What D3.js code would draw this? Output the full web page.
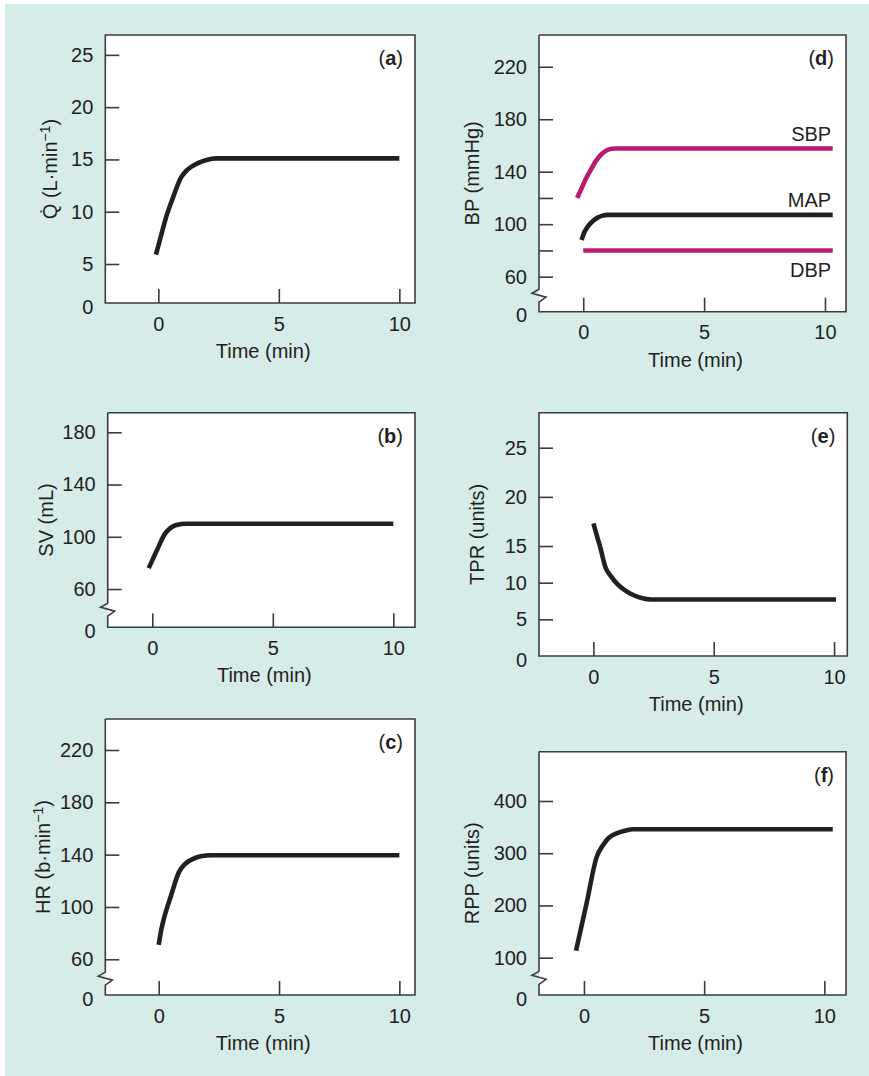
<!DOCTYPE html>
<html><head><meta charset="utf-8">
<script src="https://cdn.jsdelivr.net/npm/d3@7"></script>
<style>
html,body{margin:0;padding:0;background:#fff;}
svg{display:block;}
text{font-family:"Liberation Sans",Arial,Helvetica,sans-serif;fill:#231f20;}
</style></head>
<body>
<script>
// ---------- DATA ----------
const timeTicks = [0, 5, 10];

// (a) Cardiac output
const qTime = [-0.1, 0.1, 0.3, 0.6, 0.95, 1.2, 1.6, 2.0, 2.4, 10];
const qValue = [5.9, 7.6, 9.3, 11.3, 13.3, 14.0, 14.6, 14.95, 15.1, 15.1];
const qTicks = [5, 10, 15, 20, 25];

// (b) Stroke volume
const svTime = [-0.15, 0.1, 0.3, 0.45, 0.6, 0.8, 1.0, 1.4, 10];
const svValue = [76, 86, 94, 100, 104, 107.3, 109, 110, 110];
const svTicks = [60, 100, 140, 180];

// (c) Heart rate
const hrTime = [0, 0.1, 0.2, 0.5, 0.85, 1.1, 1.45, 1.8, 2.15, 10];
const hrValue = [71, 82, 90, 108, 127, 133, 137, 139, 139.5, 139.5];
const hrTicks = [60, 100, 140, 180, 220];

// (d) Blood pressure
const sbpTime = [-0.25, -0.1, 0.1, 0.3, 0.5, 0.7, 0.9, 1.1, 1.3, 10.32];
const sbpValue = [120, 126, 134.2, 141, 147.5, 152.3, 155.5, 157.2, 157.7, 157.7];
const mapTime = [-0.07, 0.05, 0.2, 0.4, 0.6, 0.8, 1.0, 10.32];
const mapValue = [88, 94, 98.5, 102.5, 105, 106.5, 107.1, 107.1];
const dbpTime = [0, 10.32];
const dbpValue = [80, 80];
const bpTicks = [60, 80, 100, 120, 140, 180, 220];
const bpTickLabels = ["60", "", "100", "", "140", "180", "220"];
const bpSeriesNames = ["SBP", "MAP", "DBP"];

// (e) Total peripheral resistance
const tprTime = [0, 0.15, 0.28, 0.5, 0.75, 1.0, 1.3, 1.7, 2.0, 2.4, 10.08];
const tprValue = [17.3, 16.0, 14.9, 12.1, 10.8, 9.8, 9.0, 8.25, 7.9, 7.7, 7.7];
const tprTicks = [5, 10, 15, 20, 25];

// (f) Rate pressure product
const rppTime = [-0.33, 0.11, 0.53, 0.8, 1.05, 1.36, 1.7, 2.05, 10.35];
const rppValue = [113, 204, 293, 316, 330, 338, 343, 346, 346];
const rppTicks = [100, 200, 300, 400];

// ---------- LAYOUT ----------
const W = 869, H = 1076;
const FS = 20;
const INK = "#231f20", FRAME = "#3c3c3c", MAGENTA = "#bc1a71";

const svg = d3.select("body").append("svg").attr("width", W).attr("height", H);
svg.append("rect").attr("x", 5).attr("y", 4).attr("width", W - 5).attr("height", H - 4).attr("fill", "#d6ece9");

const panels = [
  {letter: "a", box: [105.3, 35, 415, 303], xDom: [-2.2, 10.65], yDom: [1.27, 26.9], ticks: qTicks, brk: false,
   ylabel: "Q", labOff: 55,
   series: [{t: qTime, v: qValue, c: INK}]},
  {letter: "b", box: [107.7, 412.7, 415, 627.3], xDom: [-1.85, 10.9], yDom: [30.7, 195], ticks: svTicks, brk: true,
   ylabel: "SV (mL)", labOff: 62,
   series: [{t: svTime, v: svValue, c: INK}]},
  {letter: "c", box: [105.3, 719, 415, 995], xDom: [-2.22, 10.65], yDom: [32.7, 243.7], ticks: hrTicks, brk: true,
   ylabel: "HR", labOff: 62,
   series: [{t: hrTime, v: hrValue, c: INK}]},
  {letter: "d", box: [539, 35, 846, 311.7], xDom: [-1.83, 10.87], yDom: [33.3, 244.2], ticks: bpTicks, tickLabels: bpTickLabels, brk: true,
   ylabel: "BP (mmHg)", labOff: 67,
   series: [{t: sbpTime, v: sbpValue, c: MAGENTA, name: bpSeriesNames[0], ldy: -14.5},
            {t: mapTime, v: mapValue, c: INK, name: bpSeriesNames[1], ldy: -15},
            {t: dbpTime, v: dbpValue, c: MAGENTA, name: bpSeriesNames[2], ldy: 19.7}]},
  {letter: "e", box: [539, 412.7, 847.3, 656], xDom: [-2.26, 10.55], yDom: [0, 15, 28.56], yFrac: [0, 0.452, 1], ticks: tprTicks, brk: false,
   ylabel: "TPR (units)", labOff: 62,
   series: [{t: tprTime, v: tprValue, c: INK}]},
  {letter: "f", box: [539, 751.7, 846, 995], xDom: [-1.87, 10.9], yDom: [28.5, 494.4], ticks: rppTicks, brk: true,
   ylabel: "RPP (units)", labOff: 67,
   series: [{t: rppTime, v: rppValue, c: INK}]}
];

panels.forEach(p => {
  const [L, T, R, B] = p.box;
  const g = svg.append("g");
  const x = d3.scaleLinear().domain(p.xDom).range([L, R]);
  const yRange = p.yFrac ? p.yFrac.map(f => B - f * (B - T)) : [B, T];
  const y = d3.scaleLinear().domain(p.yDom).range(yRange);

  g.append("rect").attr("x", L).attr("y", T).attr("width", R - L).attr("height", B - T).attr("fill", "#fff");

  const fp = d3.path();
  if (p.brk) {
    const yb = (y(p.ticks[0]) + B) / 2 + 1;
    fp.moveTo(L, T); fp.lineTo(R, T); fp.lineTo(R, B); fp.lineTo(L, B);
    fp.lineTo(L, yb + 7); fp.lineTo(L + 7, yb + 2); fp.lineTo(L - 7, yb - 2); fp.lineTo(L, yb - 6); fp.lineTo(L, T);
  } else {
    fp.moveTo(L, T); fp.lineTo(R, T); fp.lineTo(R, B); fp.lineTo(L, B); fp.closePath();
  }
  g.append("path").attr("d", fp.toString()).attr("fill", "none").attr("stroke", FRAME).attr("stroke-width", 1.6);

  const ya = d3.axisLeft(y).tickValues(p.ticks).tickSize(-14).tickPadding(12)
    .tickFormat((d, i) => p.tickLabels ? p.tickLabels[i] : String(d));
  const yg = g.append("g").attr("transform", `translate(${L},0)`).call(ya);
  yg.select(".domain").remove();
  yg.selectAll(".tick line").attr("stroke", FRAME).attr("stroke-width", 1.6);
  yg.selectAll(".tick text").style("font-size", FS + "px").attr("fill", INK).style("font-family", '"Liberation Sans",Arial,sans-serif');

  g.append("text").attr("x", L - 12).attr("y", B + 3.5).attr("dy", "0.35em").attr("text-anchor", "end")
    .style("font-size", FS + "px").text("0");

  const xa = d3.axisBottom(x).tickValues(timeTicks).tickSize(-14).tickPadding(13.3).tickFormat(d => String(d));
  const xg = g.append("g").attr("transform", `translate(0,${B})`).call(xa);
  xg.select(".domain").remove();
  xg.selectAll(".tick line").attr("stroke", FRAME).attr("stroke-width", 1.6);
  xg.selectAll(".tick text").style("font-size", FS + "px").attr("fill", INK).style("font-family", '"Liberation Sans",Arial,sans-serif');

  g.append("text").attr("x", (L + R) / 2 + 3).attr("y", B + 48).attr("dy", "0.35em").attr("text-anchor", "middle")
    .style("font-size", FS + "px").text("Time (min)");

  const yl = g.append("text").attr("transform", `translate(${L - p.labOff},${(T + B) / 2}) rotate(-90)`)
    .attr("text-anchor", "middle").attr("dy", "0.35em").style("font-size", FS + "px");
  if (p.ylabel === "Q") {
    yl.append("tspan").text("Q\u0307 (L\u00b7min");
    yl.append("tspan").attr("dy", -7).style("font-size", "14px").text("\u22121");
    yl.append("tspan").attr("dy", 7).text(")");
  } else if (p.ylabel === "HR") {
    yl.append("tspan").text("HR (b\u00b7min");
    yl.append("tspan").attr("dy", -7).style("font-size", "14px").text("\u22121");
    yl.append("tspan").attr("dy", 7).text(")");
  } else {
    yl.text(p.ylabel);
  }

  const pl = g.append("text").attr("x", R - 12).attr("y", T + 23).attr("dy", "0.35em").attr("text-anchor", "end")
    .style("font-size", FS + "px");
  pl.append("tspan").text("(");
  pl.append("tspan").style("font-weight", "bold").text(p.letter);
  pl.append("tspan").text(")");

  const line = d3.line().x(d => x(d[0])).y(d => y(d[1])).curve(d3.curveMonotoneX);
  p.series.forEach(s => {
    const pts = s.t.map((t, i) => [t, s.v[i]]);
    g.append("path").attr("d", line(pts)).attr("fill", "none").attr("stroke", s.c)
      .attr("stroke-width", 4.6).attr("stroke-linejoin", "round").attr("stroke-linecap", "butt");
    if (s.name) {
      const last = pts[pts.length - 1];
      g.append("text").attr("x", x(last[0]) - 1.5).attr("y", y(last[1]) + s.ldy).attr("dy", "0.35em")
        .attr("text-anchor", "end").style("font-size", FS + "px").text(s.name);
    }
  });
});
</script>
</body></html>
